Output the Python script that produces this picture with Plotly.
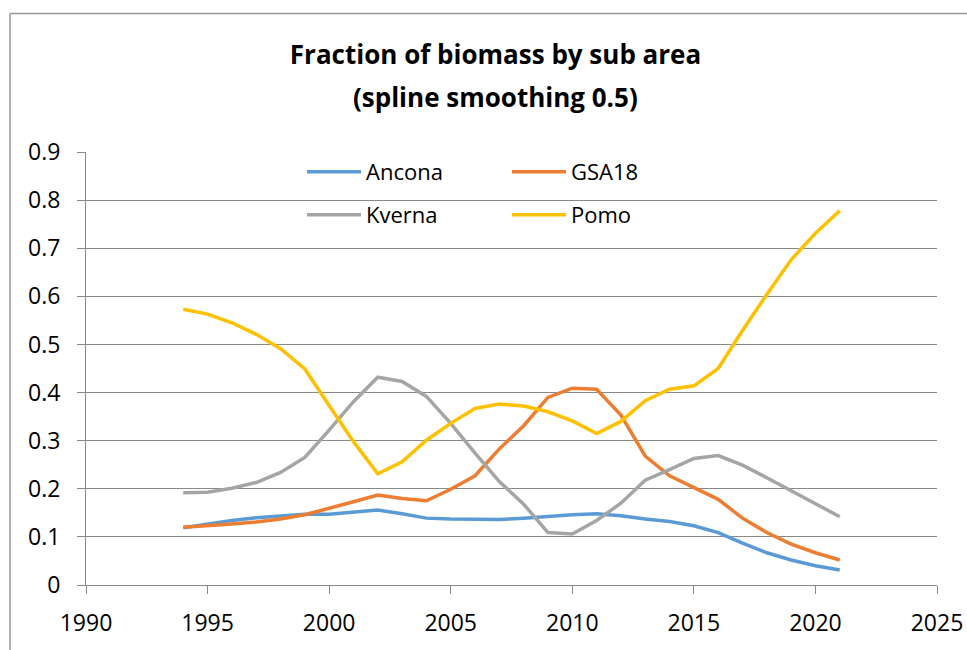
import plotly.graph_objects as go

years = list(range(1994, 2022))
ancona = [0.119, 0.127, 0.134, 0.140, 0.143, 0.147, 0.147, 0.151, 0.156, 0.148,
          0.139, 0.137, 0.137, 0.136, 0.139, 0.143, 0.146, 0.148, 0.144, 0.137,
          0.132, 0.123, 0.109, 0.087, 0.067, 0.052, 0.040, 0.031]
gsa18 = [0.120, 0.123, 0.127, 0.131, 0.137, 0.146, 0.159, 0.173, 0.187, 0.180,
         0.175, 0.199, 0.227, 0.283, 0.331, 0.390, 0.409, 0.407, 0.353, 0.268,
         0.227, 0.202, 0.178, 0.139, 0.109, 0.085, 0.067, 0.052]
kverna = [0.192, 0.193, 0.201, 0.213, 0.234, 0.265, 0.322, 0.381, 0.432, 0.423,
          0.392, 0.336, 0.274, 0.215, 0.168, 0.109, 0.106, 0.134, 0.170, 0.218,
          0.240, 0.263, 0.269, 0.249, 0.223, 0.196, 0.168, 0.142]
pomo = [0.573, 0.563, 0.545, 0.521, 0.491, 0.449, 0.373, 0.298, 0.231, 0.256,
        0.301, 0.336, 0.367, 0.376, 0.372, 0.360, 0.341, 0.315, 0.340, 0.383,
        0.407, 0.414, 0.450, 0.529, 0.604, 0.676, 0.731, 0.778]

series = [("Ancona", ancona, "#5B9BD5", "legend"),
          ("GSA18", gsa18, "#ED7D31", "legend"),
          ("Kverna", kverna, "#A5A5A5", "legend2"),
          ("Pomo", pomo, "#FFC000", "legend2")]

FONT = "Open Sans"
fig = go.Figure()
for name, vals, col, lg in series:
    fig.add_trace(go.Scatter(x=years, y=vals, name=name, mode="lines",
                             line=dict(color=col, width=3.5), legend=lg))

L, R, T, B = 86, 30, 152, 65
W, H = 967, 650
pw, ph = W - L - R, H - T - B

leg_common = dict(orientation="h", xanchor="left", yanchor="middle",
                  bgcolor="rgba(0,0,0,0)", font=dict(family=FONT, size=22, color="#000"),
                  itemwidth=54, entrywidth=136, tracegroupgap=0)

fig.update_layout(
    width=W, height=H,
    margin=dict(l=L, r=R, t=T, b=B, autoexpand=False),
    paper_bgcolor="white", plot_bgcolor="white",
    font=dict(family=FONT, size=23, color="#000"),
    title=dict(text="<b>Fraction of biomass by sub area</b>",
               x=495.5 / W, xanchor="center", y=1 - 55 / H, yanchor="middle",
               yref="container", font=dict(family=FONT, size=26, color="#000")),
    annotations=[dict(text="<b>(spline smoothing 0.5)</b>", xref="paper", yref="paper",
                      x=(495.5 - L) / pw, y=(H - B - 97) / ph, xanchor="center",
                      yanchor="middle", showarrow=False,
                      font=dict(family=FONT, size=26, color="#000"))],
    showlegend=True,
    legend=dict(x=(302 - L) / pw, y=(H - B - 172) / ph, **leg_common),
    legend2=dict(x=(302 - L) / pw, y=(H - B - 215) / ph, **leg_common),
    xaxis=dict(range=[1990, 2025], tickvals=list(range(1990, 2026, 5)),
               showgrid=False, showline=True, linecolor="#898989", linewidth=1,
               ticks="outside", ticklen=8, tickcolor="#898989", zeroline=False,
               automargin=False, ticklabelstandoff=9,
               tickfont=dict(family=FONT, size=23)),
    yaxis=dict(range=[0, 0.9], tickvals=[i / 10 for i in range(10)],
               ticktext=["0"] + [f"0.{i}" for i in range(1, 10)],
               showgrid=True, gridcolor="#898989", gridwidth=1,
               showline=True, linecolor="#898989", linewidth=1, zeroline=False,
               ticks="outside", ticklen=8, tickcolor="#898989",
               automargin=False, ticklabelstandoff=12,
               tickfont=dict(family=FONT, size=23)),
    shapes=[
        dict(type="line", xref="paper", yref="paper",
             x0=(10 - L) / pw, x1=(W + 10 - L) / pw, y0=(H - B - 13.5) / ph, y1=(H - B - 13.5) / ph,
             line=dict(color="#999999", width=1.5)),
        dict(type="line", xref="paper", yref="paper",
             x0=(10 - L) / pw, x1=(10 - L) / pw, y0=(H - B - 13.5) / ph, y1=-(B + 10) / ph,
             line=dict(color="#999999", width=1.5)),
    ],
)

fig.write_html("out.html", config={"displayModeBar": False},
               post_script="document.body.style.margin='0';document.body.style.overflow='hidden';")
